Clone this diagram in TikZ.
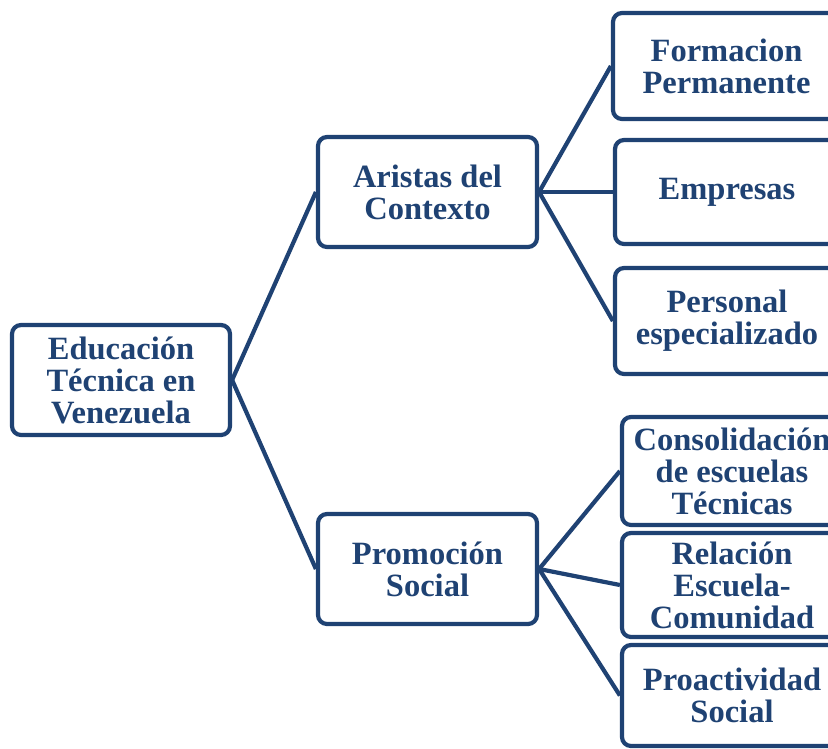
\documentclass[tikz,border=0pt]{standalone}
\usepackage{fontspec}
\setmainfont{Liberation Serif}
\definecolor{navy}{RGB}{31,66,115}
\begin{document}
\begin{tikzpicture}[x=1pt,y=-1pt,
  box/.style={draw=navy, line width=4.2pt, rounded corners=9pt, fill=white,
    text=navy, font=\fontsize{32.5}{32}\selectfont\bfseries, align=center,
    inner sep=0pt},
  link/.style={draw=navy, line width=4.2pt}]
\useasboundingbox (0,0) rectangle (828,748);
\clip (0,0) rectangle (828,748);
\node[box, minimum width=218pt, minimum height=110pt] (root) at (121,380) {Educación\\Técnica en\\Venezuela};
\node[box, minimum width=219pt, minimum height=110pt] (ar) at (427.5,192) {Aristas del\\Contexto};
\node[box, minimum width=219pt, minimum height=110pt] (pr) at (427.5,569) {Promoción\\Social};
\node[box, minimum width=227pt, minimum height=106pt] (fo) at (726.5,66) {Formacion\\Permanente};
\node[box, minimum width=224pt, minimum height=104pt] (em) at (727,192) {Empresas};
\node[box, minimum width=224pt, minimum height=106pt] (pe) at (727,321) {Personal\\especializado};
\node[box, minimum width=220pt, minimum height=108pt] (co) at (732,471) {Consolidación\\de escuelas\\Técnicas};
\node[box, minimum width=220pt, minimum height=104pt] (re) at (732,585) {Relación\\Escuela-\\Comunidad};
\node[box, minimum width=220pt, minimum height=101pt] (pa) at (732,695.5) {Proactividad\\Social};
\draw[link] (root.east) -- (ar.west);
\draw[link] (root.east) -- (pr.west);
\draw[link] (ar.east) -- (fo.west);
\draw[link] (ar.east) -- (em.west);
\draw[link] (ar.east) -- (pe.west);
\draw[link] (pr.east) -- (co.west);
\draw[link] (pr.east) -- (re.west);
\draw[link] (pr.east) -- (pa.west);
\end{tikzpicture}
\end{document}
